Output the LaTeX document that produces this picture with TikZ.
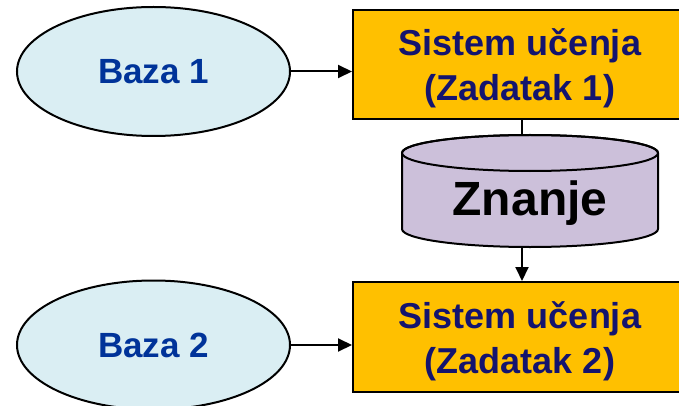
\documentclass[tikz,border=0pt]{standalone}
\usepackage{fontspec}
\setmainfont{Liberation Sans}
\usetikzlibrary{shapes.geometric,arrows.meta}
\definecolor{bazafill}{RGB}{218,238,243}
\definecolor{bazatext}{RGB}{0,51,153}
\definecolor{boxfill}{RGB}{255,192,0}
\definecolor{boxtext}{RGB}{20,20,110}
\definecolor{cylfill}{RGB}{204,192,218}
\newcommand{\boxlines}[2]{\raisebox{0pt}[\dimexpr\height+10pt\relax][\depth]{\begin{tabular}{@{}c@{}}#1\\#2\end{tabular}}}
\begin{document}
\begin{tikzpicture}[x=1pt,y=-1pt,
  bazanode/.style={ellipse,draw=black,line width=2pt,fill=bazafill,
    minimum width=273pt,minimum height=129pt,inner sep=0pt,
    text=bazatext,font=\fontsize{35}{42}\selectfont\bfseries},
  sysbox/.style={rectangle,draw=black,line width=2pt,fill=boxfill,
    minimum width=334pt,minimum height=109pt,inner sep=0pt,
    text=boxtext,font=\fontsize{36}{45}\selectfont\bfseries},
  conn/.style={line width=2pt,draw=black},
  arr/.style={conn,-{Triangle[length=14pt,width=13pt]}}]
\useasboundingbox (0,0) rectangle (679,406);
\fill[white] (0,0) rectangle (679,406);
% nodes
\node[bazanode] (e1) at (153.5,71.5) {Baza 1};
\node[bazanode] (e2) at (153.5,345) {Baza 2};
\node[sysbox] (b1) at (520,64.5) {\boxlines{Sistem učenja}{(Zadatak 1)}};
\node[sysbox,minimum height=110pt] (b2) at (520,337) {\boxlines{Sistem učenja}{(Zadatak 2)}};
% cylinder
\filldraw[line width=2pt,fill=cylfill]
  (402,153) -- (402,229) arc[start angle=180,end angle=360,x radius=128pt,y radius=18pt]
  -- (658,153) arc[start angle=0,end angle=180,x radius=128pt,y radius=18pt] -- cycle;
\draw[line width=2pt] (530,153) ellipse[x radius=128pt,y radius=18pt];
\node[font=\fontsize{48}{56}\selectfont\bfseries,text=black] (kn) at (530,203) {Znanje};
\coordinate (cyltop) at (522,135);
\coordinate (cylbot) at (522,247);
% connectors
\draw[arr] (e1.east) -- (e1.east -| b1.west);
\draw[arr] (e2.east) -- (e2.east -| b2.west);
\draw[conn] (cyltop) -- (cyltop |- b1.south);
\draw[arr] (cylbot) -- (cylbot |- b2.north);
\end{tikzpicture}
\end{document}
